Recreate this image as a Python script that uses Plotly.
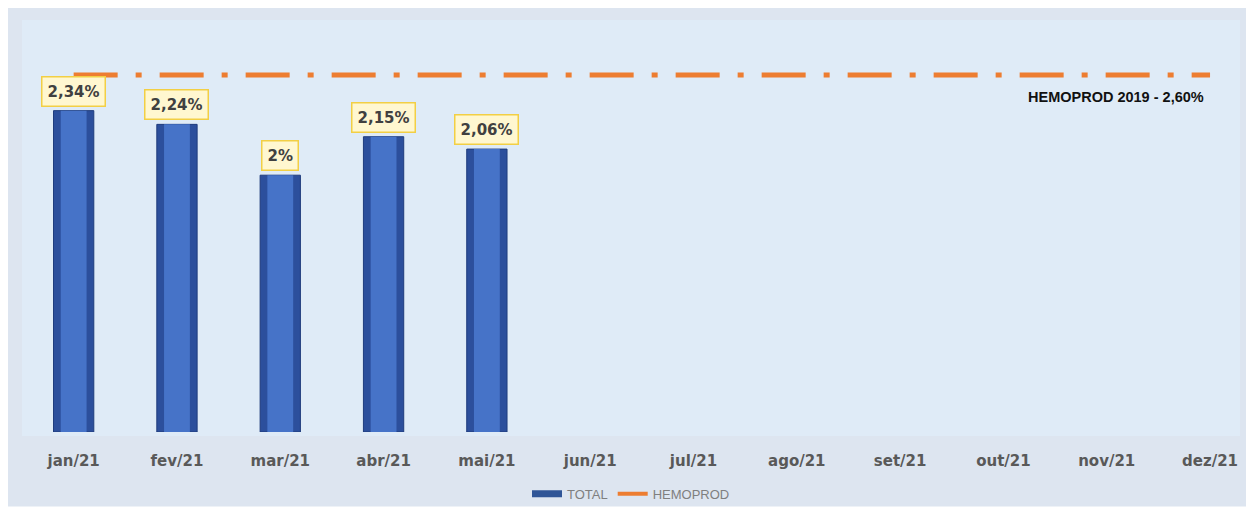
import plotly.graph_objects as go

meses = ['jan/21', 'fev/21', 'mar/21', 'abr/21', 'mai/21', 'jun/21',
         'jul/21', 'ago/21', 'set/21', 'out/21', 'nov/21', 'dez/21']
total = [2.34, 2.24, 1.87, 2.15, 2.06]
rotulos = ['2,34%', '2,24%', '2%', '2,15%', '2,06%']
hemoprod = [2.60] * 12

fig = go.Figure()
# barra com efeito de chanfro: contorno escuro + miolo mais claro
fig.add_trace(go.Bar(x=meses[:len(total)], y=total, name='TOTAL', width=0.39, showlegend=False,
                     marker=dict(color='#2c4f9c', line=dict(color='#1f3c7d', width=1))))
fig.add_trace(go.Bar(x=meses[:len(total)], y=total, name='TOTAL', width=0.25, showlegend=False,
                     marker=dict(color='#4673c8', line=dict(width=0))))
fig.add_trace(go.Scatter(x=meses, y=hemoprod, name='HEMOPROD', mode='lines', showlegend=False,
                         line=dict(color='#ed7d31', width=5, dash='44px,18px,6px,18px')))
# entradas da legenda
fig.add_trace(go.Scatter(x=[None], y=[None], name='TOTAL', mode='lines',
                         line=dict(color='#2f5597', width=7)))
fig.add_trace(go.Scatter(x=[None], y=[None], name='HEMOPROD', mode='lines',
                         line=dict(color='#ed7d31', width=4)))

for m, v, t in zip(meses, total, rotulos):
    fig.add_annotation(x=m, y=v, text=t, showarrow=False, yanchor='bottom', yshift=4,
                       font=dict(family='DejaVu Sans', size=15, color='#404040', weight='bold'),
                       bgcolor='#fff7d0', bordercolor='#f2cf45', borderwidth=1.5, borderpad=5)

fig.add_annotation(x=meses[-1], y=2.44, text='HEMOPROD 2019 - 2,60%', showarrow=False,
                   xanchor='right', xshift=-4,
                   font=dict(family='Liberation Sans Narrow, Arial Narrow, sans-serif', size=14.5,
                             color='#111111', weight='bold'))

# fundo externo e area do grafico
fig.add_shape(type='rect', xref='paper', yref='paper', x0=-0.0131, x1=1.0066, y0=-0.181, y1=1.029,
              fillcolor='#dde5f0', line=dict(width=0), layer='below')
fig.add_shape(type='rect', xref='paper', yref='paper', x0=0, x1=1, y0=-0.01, y1=1,
              fillcolor='#dfebf7', line=dict(width=0), layer='below')

fig.update_layout(
    width=1254, height=513,
    margin=dict(l=14, r=22, t=12, b=86),
    paper_bgcolor='white', plot_bgcolor='rgba(0,0,0,0)',
    barmode='overlay',
    showlegend=True,
    legend=dict(orientation='h', x=0.5, xanchor='center', y=-0.15, yanchor='middle',
                font=dict(family='Liberation Sans Narrow, Arial Narrow, sans-serif', size=13, color='#7f7f7f'),
                bgcolor='rgba(0,0,0,0)'),
    xaxis=dict(range=[-0.5, 11.29], showgrid=False, zeroline=False, showline=False,
               ticks='outside', ticklen=15, tickcolor='rgba(0,0,0,0)',
               tickfont=dict(family='DejaVu Sans', size=15, color='#595959', weight='bold')),
    yaxis=dict(range=[0, 3.0], visible=False, showgrid=False, zeroline=False),
)

fig.write_html('out.html')
